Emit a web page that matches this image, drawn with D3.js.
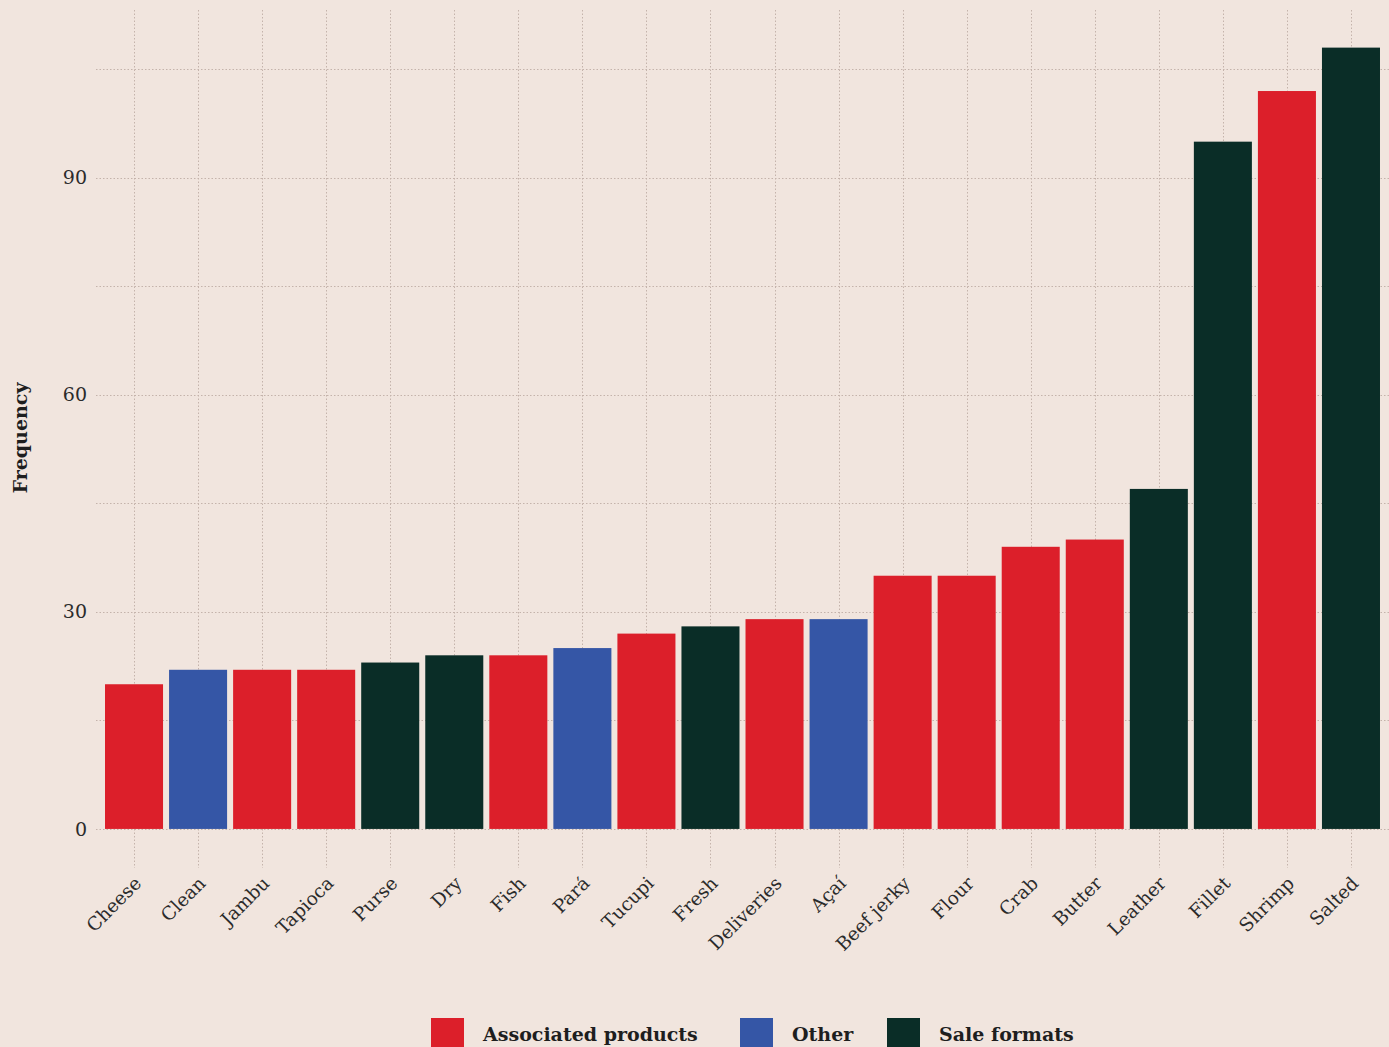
<!DOCTYPE html>
<html><head><meta charset="utf-8">
<script src="https://cdn.jsdelivr.net/npm/d3@7"></script>
<style>html,body{margin:0;padding:0;background:#F1E5DE;}svg{display:block;}</style>
</head><body>
<script>
const categories = ["Cheese","Clean","Jambu","Tapioca","Purse","Dry","Fish","Pará","Tucupi","Fresh","Deliveries","Açaí","Beef jerky","Flour","Crab","Butter","Leather","Fillet","Shrimp","Salted"];
const values = [20,22,22,22,23,24,24,25,27,28,29,29,35,35,39,40,47,95,102,108];
const groups = ["Associated products","Other","Associated products","Associated products","Sale formats","Sale formats","Associated products","Other","Associated products","Sale formats","Associated products","Other","Associated products","Associated products","Associated products","Associated products","Sale formats","Sale formats","Associated products","Sale formats"];
const legendLabels = ["Associated products","Other","Sale formats"];
const legendColors = ["#DC1F2A","#3556A6","#0A2D27"];
const majorTicks = [0,30,60,90];
const minorTicks = [15,45,75,105];

const W=1389,H=1047;
const font="'DejaVu Serif', serif";
const svg=d3.select("body").append("svg").attr("width",W).attr("height",H);
svg.append("rect").attr("width",W).attr("height",H).attr("fill","#F1E5DE");

const panel={l:96,r:1389,t:10,b:868};
const x=d3.scaleBand().domain(categories).range([102,1383]).paddingInner(0.094).paddingOuter(0.047);
const y=d3.scaleLinear().domain([-5.4,113.2]).range([panel.b,panel.t]);
const color=d3.scaleOrdinal().domain(legendLabels).range(legendColors);

const grid=svg.append("g").attr("stroke","#c4b3ab").attr("stroke-width",1).attr("stroke-dasharray","1.5,2");
grid.selectAll(".hm").data(majorTicks.concat(minorTicks)).join("line")
 .attr("x1",panel.l).attr("x2",panel.r).attr("y1",d=>Math.round(y(d))+0.5).attr("y2",d=>Math.round(y(d))+0.5);
grid.selectAll(".v").data(categories).join("line")
 .attr("x1",d=>Math.round(x(d)+x.bandwidth()/2)+0.5).attr("x2",d=>Math.round(x(d)+x.bandwidth()/2)+0.5)
 .attr("y1",panel.t).attr("y2",panel.b);

svg.append("g").selectAll("rect").data(categories).join("rect")
 .attr("x",d=>x(d)).attr("width",x.bandwidth())
 .attr("y",(d,i)=>y(values[i])).attr("height",(d,i)=>y(0)-y(values[i]))
 .attr("fill",(d,i)=>color(groups[i]));

// y axis
const ya=svg.append("g").attr("transform",`translate(${panel.l},0)`)
 .call(d3.axisLeft(y).tickValues(majorTicks).tickSize(0).tickPadding(9));
ya.select(".domain").remove();
ya.selectAll("text").attr("font-family",font).attr("font-size",19).attr("fill","#2b2b2b");

// x axis
const xa=svg.append("g").attr("transform",`translate(0,${panel.b})`)
 .call(d3.axisBottom(x).tickSize(0).tickPadding(0));
xa.select(".domain").remove();
xa.selectAll("text").attr("font-family",font).attr("font-size",18.5).attr("fill","#2b2b2b")
 .attr("text-anchor","end").attr("dy",null).attr("y",0)
 .attr("transform","translate(5,13) rotate(-45)").attr("dominant-baseline","middle");

svg.append("text").attr("transform","translate(27,438) rotate(-90)")
 .attr("text-anchor","middle").attr("font-family",font).attr("font-weight","bold")
 .attr("font-size",19).attr("fill","#1e1e1e").text("Frequency");

// legend
const legX=[431,740,887];
const lg=svg.append("g");
legendLabels.forEach((l,i)=>{
  lg.append("rect").attr("x",legX[i]).attr("y",1018).attr("width",33).attr("height",33).attr("fill",legendColors[i]);
  lg.append("text").attr("x",legX[i]+52).attr("y",1041).attr("font-family",font).attr("font-weight","bold")
    .attr("font-size",19).attr("fill","#1e1e1e").text(l);
});
</script>
</body></html>
